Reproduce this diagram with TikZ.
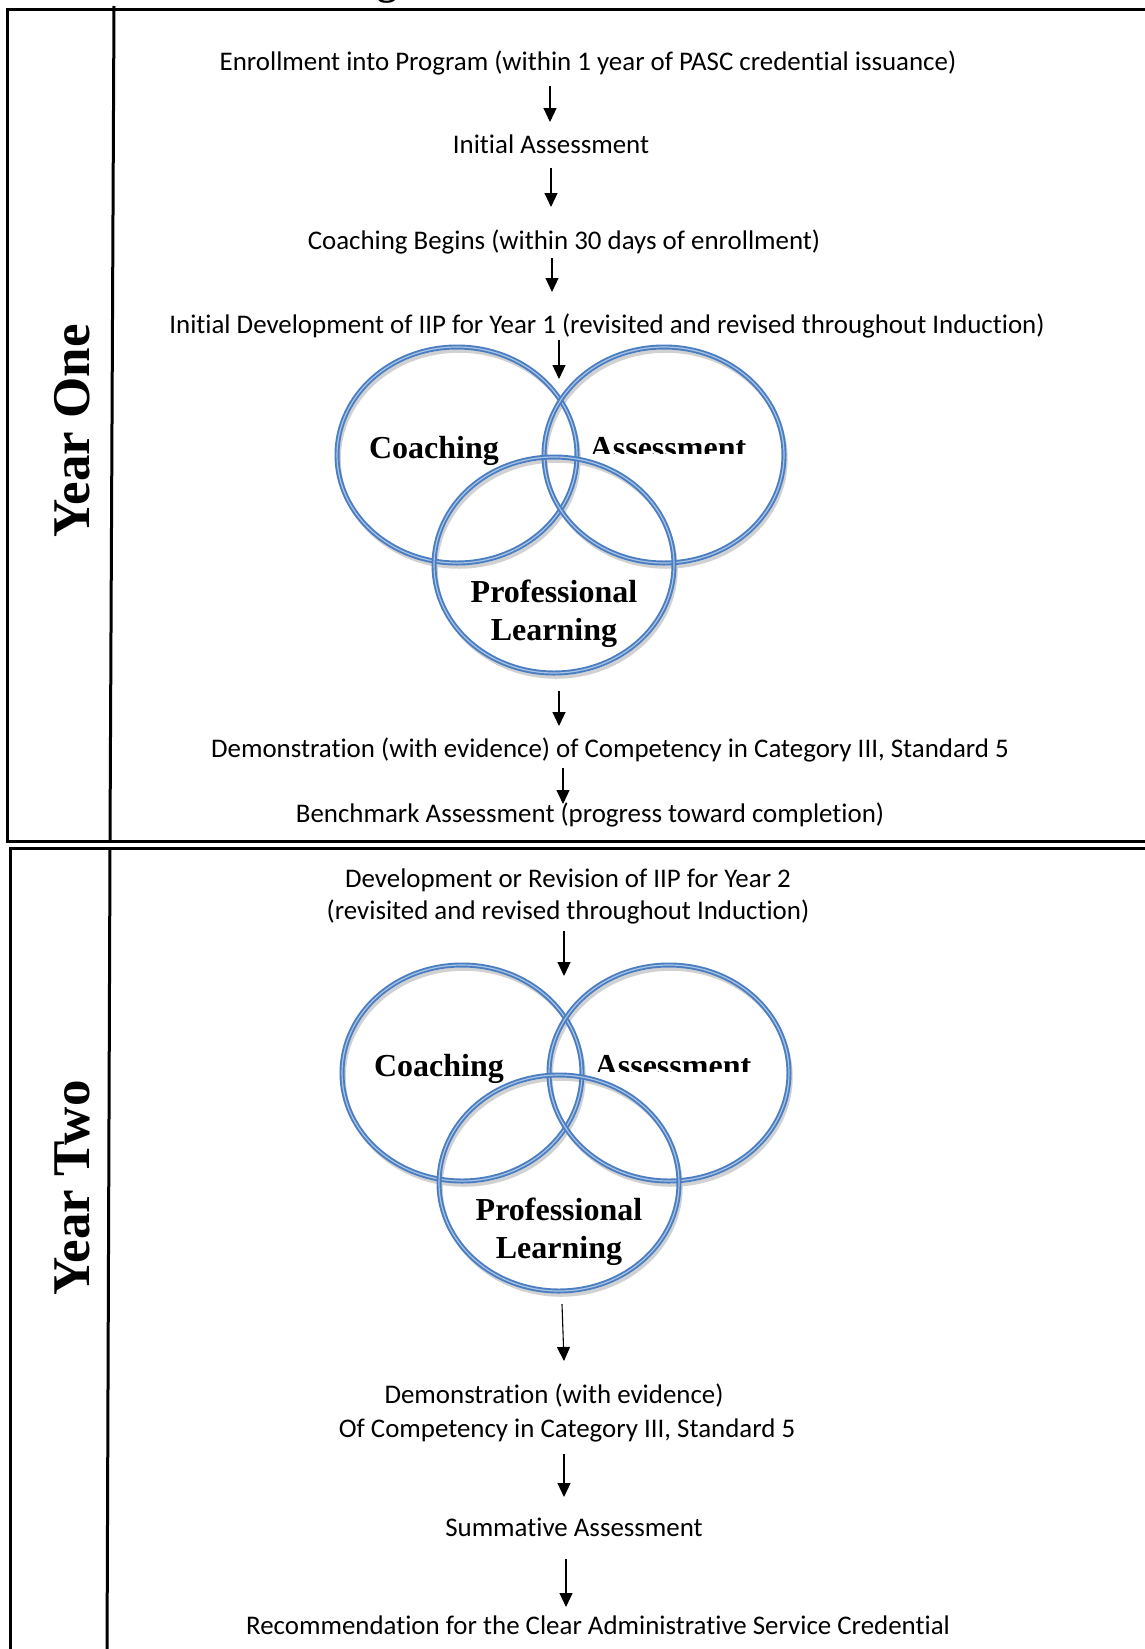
\documentclass[tikz,border=0pt]{standalone}
\usepackage{fontspec}
\setmainfont{Carlito}[Ligatures=NoCommon]
\newfontfamily\serifbold{Liberation Serif}[UprightFont=* Bold]
\usetikzlibrary{arrows.meta}
\definecolor{ringblue}{HTML}{4A7EC0}
\definecolor{ringlight}{HTML}{A9C3E6}
\begin{document}
\begin{tikzpicture}[x=1pt,y=-1pt,
  txt/.style={font=\fontsize{26.9}{32}\selectfont, inner sep=0pt},
  lbl/.style={font=\serifbold\fontsize{32}{38}\selectfont, inner sep=0pt, anchor=base},
  yearlbl/.style={font=\serifbold\fontsize{53}{60}\selectfont, inner sep=0pt, rotate=90},
  arr/.style={-{Triangle[width=13pt,length=14pt]}, line width=1.1pt},
  frame/.style={line width=3pt, line cap=butt},
  ring/.style={draw=ringblue, line width=1.9pt, double=ringlight, double distance=1.2pt},
  ringshadow/.style={draw=black!18, line width=3.5pt},
]
\useasboundingbox (0,0) rectangle (1144,1649);
\fill[white] (0,0) rectangle (1144,1649);

% cut-off title fragment
\node[font=\serifbold\fontsize{40}{40}\selectfont, inner sep=0pt, anchor=base] (ttl) at (387,-6) {g};

% frames
\draw[frame] (1150,9) -- (7,9) -- (7,841) -- (1150,841);
\draw[frame] (114,6) -- (110,841);
\draw[frame] (1150,848) -- (10,848) -- (10,1660);
\draw[frame] (110,848) -- (107,1660);

\node[yearlbl] (y1) at (72,431) {Year One};
\node[yearlbl] (y2) at (72,1188) {Year Two};

% ---------- Year One ----------
\node[txt] (enroll) at (588,63) {Enrollment into Program (within 1 year of PASC credential issuance)};
\node[txt] (init) at (551,144) {Initial Assessment};
\node[txt] (coachb) at (564,242) {Coaching Begins (within 30 days of enrollment)};
\node[txt] (iip) at (607,326) {Initial Development of IIP for Year 1 (revisited and revised throughout Induction)};
\node[txt] (demo1) at (610,750) {Demonstration (with evidence) of Competency in Category III, Standard 5};
\node[txt] (bench) at (590,815) {Benchmark Assessment (progress toward completion)};

\coordinate (a1s) at (550,86);  \coordinate (a1e) at (550,122);
\coordinate (a2s) at (551,168); \coordinate (a2e) at (551,207);
\coordinate (a3s) at (552,258); \coordinate (a3e) at (552,292);
\coordinate (a4s) at (559,340); \coordinate (a4e) at (559,379);
\coordinate (a5s) at (559,691); \coordinate (a5e) at (559,726);
\coordinate (a6s) at (563,768); \coordinate (a6e) at (563,804);
\draw[arr] (a1s) -- (a1e);
\draw[arr] (a2s) -- (a2e);
\draw[arr] (a3s) -- (a3e);
\draw[arr] (a5s) -- (a5e);
\draw[arr] (a6s) -- (a6e);

% rings year one
\foreach \cx/\cy in {457/455, 664/455, 554/565}{
  \draw[ringshadow] (\cx+2,\cy+4) ellipse [x radius=120, y radius=108];
}
\foreach \cx/\cy in {457/455, 664/455, 554/565}{
  \draw[ring] (\cx,\cy) ellipse [x radius=120, y radius=108];
}
\draw[arr] (a4s) -- (a4e);
\node[lbl] (c1) at (434,458) {Coaching};
\begin{scope}
  \clip (560,400) rectangle (790,453);
  \node[lbl] (as1) at (668,458) {Assessment};
\end{scope}
\node[lbl] (p1) at (554,602) {Professional};
\node[lbl] (l1) at (554,640) {Learning};

% ---------- Year Two ----------
\node[txt] (dev1) at (568,880) {Development or Revision of IIP for Year 2};
\node[txt] (dev2) at (568,912) {(revisited and revised throughout Induction)};
\node[txt] (demo2a) at (554,1396) {Demonstration (with evidence)};
\node[txt] (demo2b) at (567,1430) {Of Competency in Category III, Standard 5};
\node[txt] (summ) at (574,1527) {Summative Assessment};
\node[txt] (rec) at (598,1625) {Recommendation for the Clear Administrative Service Credential};

\coordinate (a7s) at (564,931);   \coordinate (a7e) at (564,976);
\coordinate (a8s) at (562,1304);  \coordinate (a8e) at (564,1361);
\coordinate (a9s) at (564,1454);  \coordinate (a9e) at (564,1497);
\coordinate (a10s) at (566,1559); \coordinate (a10e) at (566,1607);
\draw[arr] (a8s) -- (a8e);
\draw[arr] (a9s) -- (a9e);
\draw[arr] (a10s) -- (a10e);

\foreach \cx/\cy in {462/1073, 669/1073, 559/1183}{
  \draw[ringshadow] (\cx+2,\cy+4) ellipse [x radius=120, y radius=108];
}
\foreach \cx/\cy in {462/1073, 669/1073, 559/1183}{
  \draw[ring] (\cx,\cy) ellipse [x radius=120, y radius=108];
}
\draw[arr] (a7s) -- (a7e);
\node[lbl] (c2) at (439,1076) {Coaching};
\begin{scope}
  \clip (565,1018) rectangle (795,1071);
  \node[lbl] (as2) at (673,1076) {Assessment};
\end{scope}
\node[lbl] (p2) at (559,1220) {Professional};
\node[lbl] (l2) at (559,1258) {Learning};
\end{tikzpicture}
\end{document}
